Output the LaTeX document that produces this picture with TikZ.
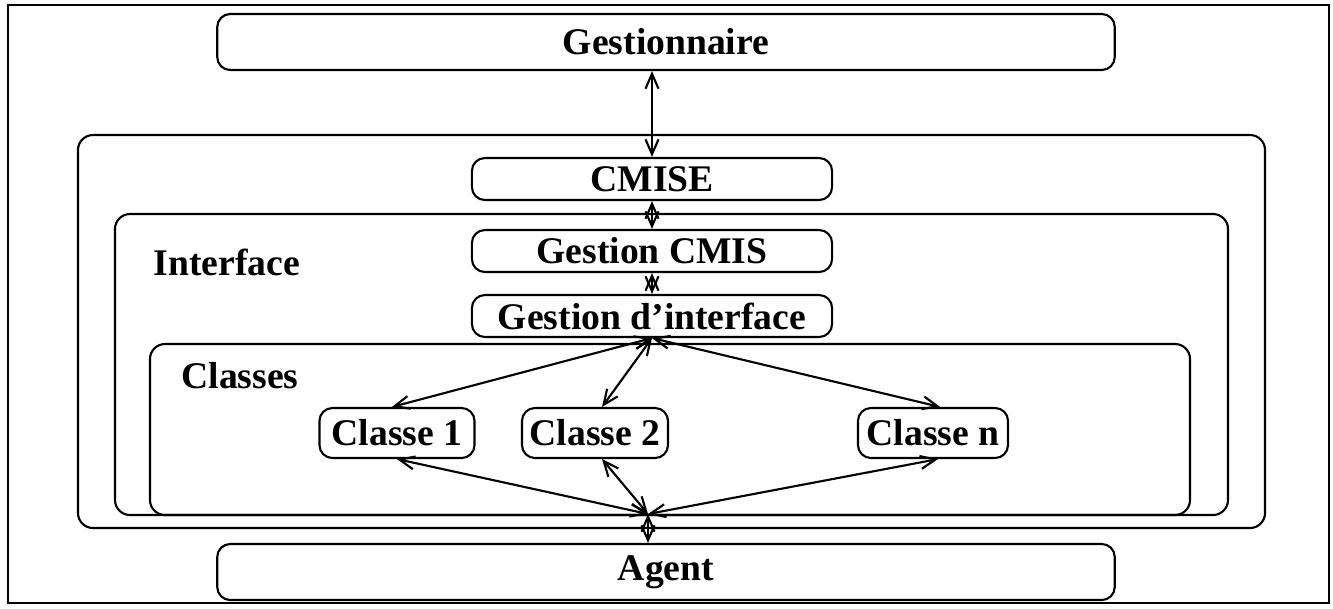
\documentclass[tikz,border=0pt]{standalone}
\usepackage{fontspec}
\setmainfont{Liberation Serif}
\usetikzlibrary{arrows.meta}

\begin{document}
\begin{tikzpicture}[x=0.01cm, y=-0.01cm,
        box/.style = {draw, rounded corners=0.13cm, font=\fontsize{10.7}{12}\bfseries, inner sep=0pt},
        frame/.style = {draw, rounded corners=0.15cm},
        lbl/.style = {font=\fontsize{10.7}{12}\bfseries, inner sep=0pt},
        >={Straight Barb[length=1.5mm, width=1.3mm]},
        line width=0.6pt
    ]
        \useasboundingbox (0,0) rectangle (1333,608);
        \draw[line width=0.5pt] (8,5) rectangle (1329,603);
        % containers
        \draw[frame] (78,135) rectangle (1265,528);
        \draw[frame] (115,214) rectangle (1228,515);
        \draw[frame] (150,344) rectangle (1190,515);
        \node[lbl] (interface) at (227,262) {Interface};
        \node[lbl] (classes) at (240,376) {Classes};
        % boxes
        \node[box, minimum width=8.97cm, minimum height=0.56cm] (gest) at (666,42) {Gestionnaire};
        \node[box, minimum width=8.97cm, minimum height=0.56cm] (agent) at (666,572) {Agent};
        \node[box, minimum width=3.6cm, minimum height=0.42cm] (cmise) at (652,179) {CMISE};
        \node[box, minimum width=3.6cm, minimum height=0.42cm] (gcmis) at (652,251) {Gestion CMIS};
        \node[box, minimum width=3.6cm, minimum height=0.42cm] (gi) at (652,316) {Gestion d'interface};
        \node[box, minimum width=1.55cm, minimum height=0.5cm] (c1) at (397,433) {Classe 1};
        \node[box, minimum width=1.46cm, minimum height=0.5cm] (c2) at (595,433) {Classe 2};
        \node[box, minimum width=1.5cm, minimum height=0.5cm] (cn) at (933,433) {Classe n};
        \coordinate (hub) at (648,514);
        % arrows
        \draw[<->] (cmise.north |- gest.south) -- (cmise.north);
        \draw[<->] (cmise.south) -- (gcmis.north);
        \draw[<->] (gcmis.south) -- (gi.south |- gi.north);
        \draw[<->] (gi.south) -- ([xshift=-0.05cm]c1.north);
        \draw[<->] (gi.south) -- ([xshift=0.07cm]c2.north);
        \draw[<->] (gi.south) -- ([xshift=0.07cm]cn.north);
        \draw[<->] (hub) -- (c1.south);
        \draw[<->] (hub) -- ([xshift=0.07cm]c2.south);
        \draw[<->] (hub) -- ([xshift=0.05cm]cn.south);
        \draw[<->] (hub) -- (hub |- agent.north);
    \end{tikzpicture}
\end{document}
